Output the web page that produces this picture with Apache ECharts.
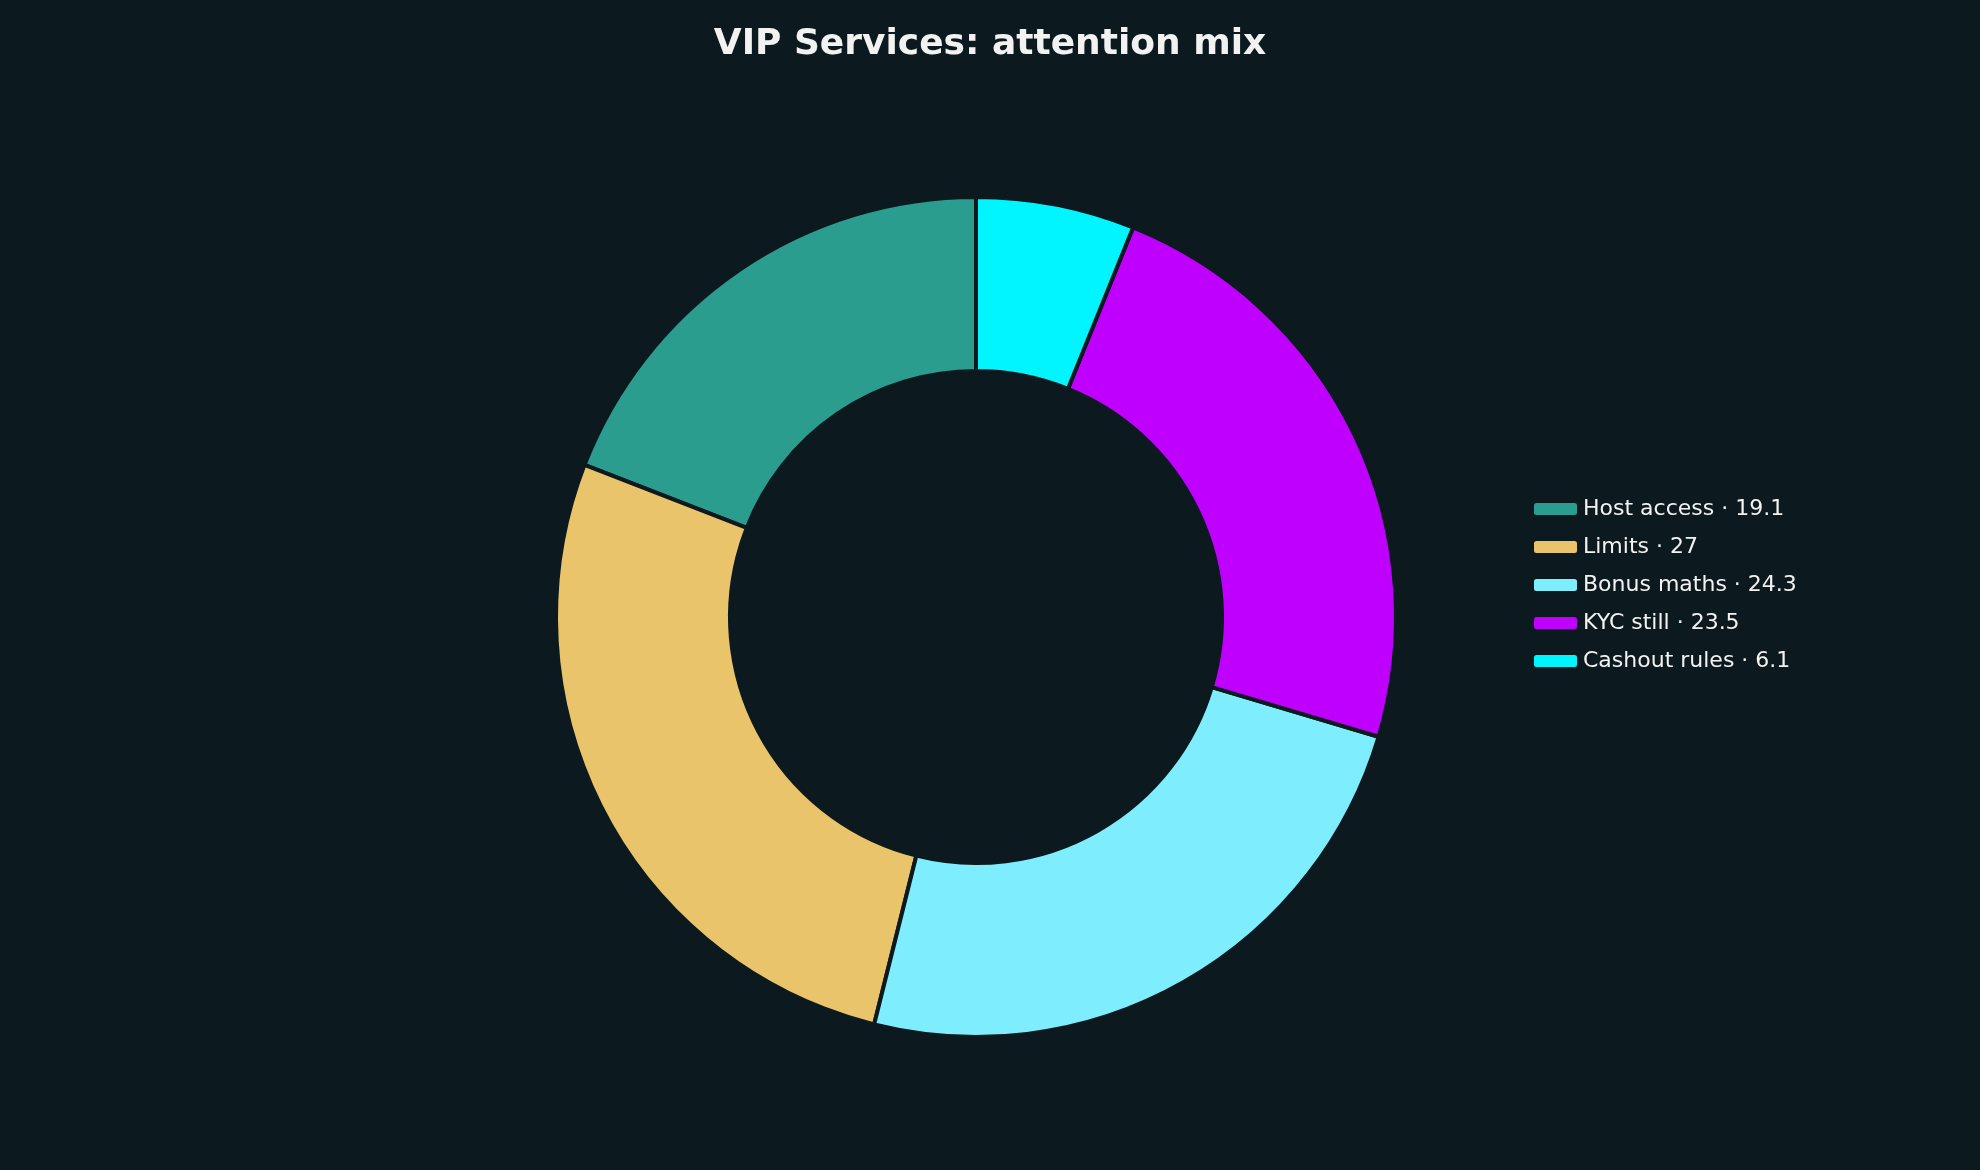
<!DOCTYPE html>
<html><head><meta charset="utf-8">
<script src="https://cdn.jsdelivr.net/npm/echarts@6/dist/echarts.min.js"></script>
<style>html,body{margin:0;padding:0;background:#0c1a1f}#c{width:1980px;height:1170px}</style>
</head><body><div id="c"></div>
<script>
const categories = ["Host access", "Limits", "Bonus maths", "KYC still", "Cashout rules"];
const values = [19.1, 27, 24.3, 23.5, 6.1];
const colors = ["#2a9d8f", "#e9c46a", "#7eeefe", "#bf00ff", "#00f5ff"];
const chart = echarts.init(document.getElementById('c'));
chart.setOption({
  backgroundColor: '#0c1a1f',
  title: { text: 'VIP Services: attention mix', left: 'center', top: 22,
    textStyle: { color: '#f2f2f2', fontSize: 36, fontWeight: 'bold', fontFamily: 'DejaVu Sans' } },
  legend: { orient: 'vertical', left: 1527, top: 'middle', itemWidth: 45, itemHeight: 14, itemGap: 16,
    textStyle: { color: '#f2f2f2', fontSize: 22, fontFamily: 'DejaVu Sans' },
    formatter: n => n + ' · ' + values[categories.indexOf(n)] },
  series: [{
    type: 'pie', center: [976, 617], radius: [246, 420], startAngle: 90, clockwise: false,
    label: { show: false }, labelLine: { show: false },
    itemStyle: { borderColor: '#0c1a1f', borderWidth: 4 },
    data: categories.map((n, i) => ({ name: n, value: values[i], itemStyle: { color: colors[i] } }))
  }]
});
</script></body></html>
